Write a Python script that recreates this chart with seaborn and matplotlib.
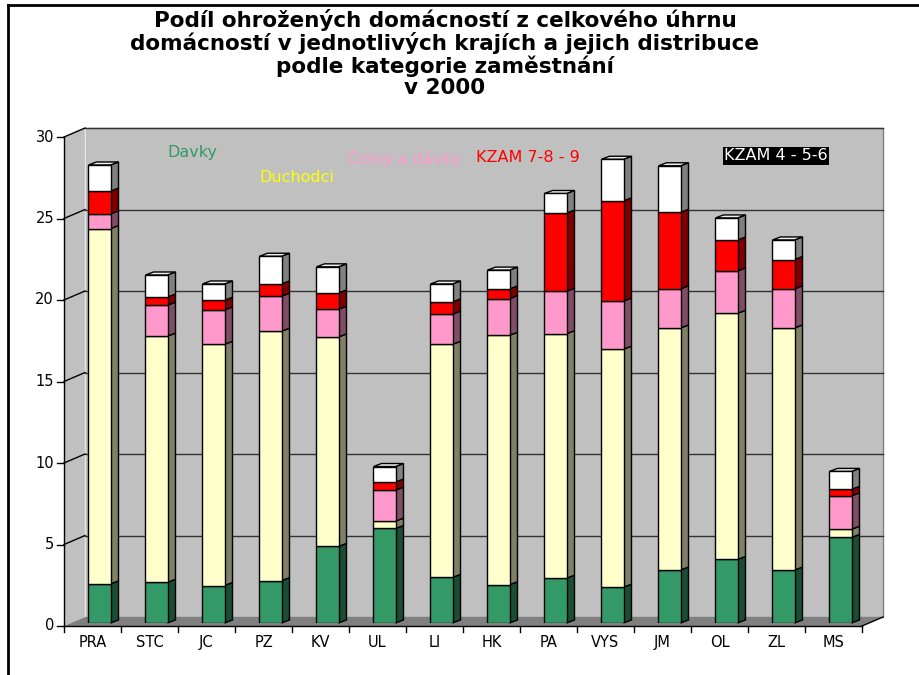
import numpy as np
import pandas as pd
import seaborn as sns
import matplotlib.pyplot as plt
from matplotlib.patches import Polygon
from matplotlib.lines import Line2D

# data (% of households)
regions = ["PRA", "STC", "JC", "PZ", "KV", "UL", "LI", "HK", "PA", "VYS", "JM", "OL", "ZL", "MS"]
davky = [2.4, 2.5, 2.3, 2.6, 4.7, 5.8, 2.8, 2.35, 2.75, 2.2, 3.25, 3.9, 3.25, 5.25]
duchodci = [21.8, 15.1, 14.8, 15.3, 12.85, 0.45, 14.3, 15.3, 15.0, 14.6, 14.85, 15.1, 14.85, 0.5]
cinny = [0.9, 1.9, 2.1, 2.15, 1.7, 1.9, 1.85, 2.25, 2.6, 2.95, 2.4, 2.6, 2.4, 2.05]
kzam789 = [1.4, 0.5, 0.6, 0.75, 1.0, 0.5, 0.75, 0.6, 4.8, 6.15, 4.7, 1.9, 1.8, 0.4]
kzam456 = [1.6, 1.35, 1.0, 1.7, 1.6, 0.95, 1.1, 1.15, 1.2, 2.55, 2.85, 1.35, 1.2, 1.1]

series_names = ["Davky", "Duchodci", "Činny a dávky", "KZAM 7-8 - 9", "KZAM 4 - 5-6"]
front_cols = ["#339966", "#FFFFCC", "#FF99CC", "#FF0000", "#FFFFFF"]
side_cols = ["#1A4D33", "#808066", "#804D66", "#800000", "#808080"]
yticks = [0, 5, 10, 15, 20, 25, 30]

df = pd.DataFrame({"kraj": regions, series_names[0]: davky, series_names[1]: duchodci,
                   series_names[2]: cinny, series_names[3]: kzam789, series_names[4]: kzam456})

W, H = 919, 675
fig = plt.figure(figsize=(W / 100, H / 100), dpi=100)
fig.patch.set_facecolor("white")
ax = fig.add_axes([71 / W, (H - 623) / H, 798 / W, 489 / H])

n = len(regions)
PX = 1 / 57          # data x per pixel
PY = 30 / 489        # data y per pixel
fdx, fdy = -7 * PX, -3 * PY     # front plane offset
bdx, bdy = 14 * PX, 6 * PY      # back wall offset
x0, x1 = -0.5, n - 0.5

def poly(pts, fc, ec="none", lw=1, z=0.1):
    ax.add_patch(Polygon(pts, closed=True, facecolor=fc, edgecolor=ec, lw=lw, zorder=z, clip_on=False))

# walls and floor
poly([(x0 + bdx, bdy), (x1 + bdx, bdy), (x1 + bdx, 30 + bdy), (x0 + bdx, 30 + bdy)], "#C0C0C0", "#808080", z=0.1)
poly([(x0 + fdx, fdy), (x0 + bdx, bdy), (x0 + bdx, 30 + bdy), (x0 + fdx, 30 + fdy)], "#C0C0C0", "none", z=0.1)
ax.plot([x0 + bdx, x0 + bdx], [bdy, 30 + bdy], color="#E8E8E8", lw=1, zorder=0.15, clip_on=False)
poly([(x0 + fdx, fdy), (x1 + fdx, fdy), (x1 + bdx, bdy), (x0 + bdx, bdy)], "#808080", "none", z=0.3)
ax.plot([x1 + fdx, x1 + bdx], [fdy, bdy], color="black", lw=1, zorder=0.35, clip_on=False)

for v in yticks[1:]:
    ax.plot([x0 + bdx, x1 + bdx], [v + bdy, v + bdy], color="#333333", lw=1, zorder=0.2, clip_on=False)
    ax.plot([x0 + fdx, x0 + bdx], [v + fdy, v + bdy], color="black", lw=1, zorder=0.2, clip_on=False)

# front axes
ax.plot([x0 + fdx, x0 + fdx], [fdy, 30 + fdy], color="black", lw=1, zorder=2, clip_on=False)
ax.plot([x0 + fdx, x1 + fdx], [fdy, fdy], color="black", lw=1, zorder=2, clip_on=False)
for v in yticks:
    ax.plot([x0 + fdx - 7 * PX, x0 + fdx], [v + fdy, v + fdy], color="black", lw=1, zorder=2, clip_on=False)
    ax.text(x0 + fdx - 10 * PX, v + fdy, str(v), ha="right", va="center", fontsize=10.5, zorder=3)
for i in range(n + 1):
    xb = i - 0.5 + fdx
    ax.plot([xb, xb], [fdy, fdy - 6 * PY], color="black", lw=1, zorder=2, clip_on=False)
for i, r in enumerate(regions):
    ax.text(i + fdx, fdy - 9 * PY, r, ha="center", va="top", fontsize=10.5, zorder=3)

# stacked bars (front faces)
bw = 0.386
ddx, ddy = 8 * PX, 3 * PY
bottom = np.zeros(n)
for name, fc, sc in zip(series_names, front_cols, side_cols):
    vals = df[name].to_numpy()
    sns.barplot(data=df, x="kraj", y=name, order=regions, bottom=bottom, color=fc, saturation=1,
                width=bw, edgecolor="black", linewidth=1, ax=ax, zorder=1)
    for i in range(n):
        xr = i + bw / 2
        y0, y1 = bottom[i], bottom[i] + vals[i]
        poly([(xr, y0), (xr + ddx, y0 + ddy), (xr + ddx, y1 + ddy), (xr, y1)], sc, "black", z=0.8)
    bottom = bottom + vals

for i in range(n):
    xl, xr, t = i - bw / 2, i + bw / 2, bottom[i]
    poly([(xl, t), (xr, t), (xr + ddx, t + ddy), (xl + ddx, t + ddy)], "#EEEEEE", "black", z=0.9)

ax.set_xlim(x0, x1)
ax.set_ylim(0, 30)
ax.axis("off")

# legend-like labels inside the plot
def ftext(px, py, s, **kw):
    fig.text(px / W, 1 - py / H, s, **kw)

ftext(192, 153, "Davky", color="#339966", fontsize=11.5, ha="center", va="center")
ftext(297, 177, "Duchodci", color="#FFFF00", fontsize=11.5, ha="center", va="center")
ftext(404, 158, "Činny a dávky", color="#FF99CC", fontsize=11.5, ha="center", va="center")
ftext(528, 158, "KZAM 7-8 - 9", color="#FF0000", fontsize=11.5, ha="center", va="center")
ftext(776, 156, "KZAM 4 - 5-6", color="white", fontsize=11.5, ha="center", va="center",
      bbox=dict(facecolor="black", edgecolor="none", pad=1))

# title
title_lines = ["Podíl ohrožených domácností z celkového úhrnu",
               "domácností v jednotlivých krajích a jejich distribuce",
               "podle kategorie zaměstnání",
               "v 2000"]
for line, py in zip(title_lines, [20, 43, 66, 88]):
    ftext(445, py, line, fontsize=15.5, fontweight="bold", ha="center", va="center")

# frame
fig.add_artist(Line2D([8 / W, 8 / W], [0, 1 - 5 / H], color="black", lw=2, transform=fig.transFigure))
fig.add_artist(Line2D([8 / W, 1], [1 - 5 / H, 1 - 5 / H], color="black", lw=2, transform=fig.transFigure))

fig.savefig("out.png", dpi=100)
